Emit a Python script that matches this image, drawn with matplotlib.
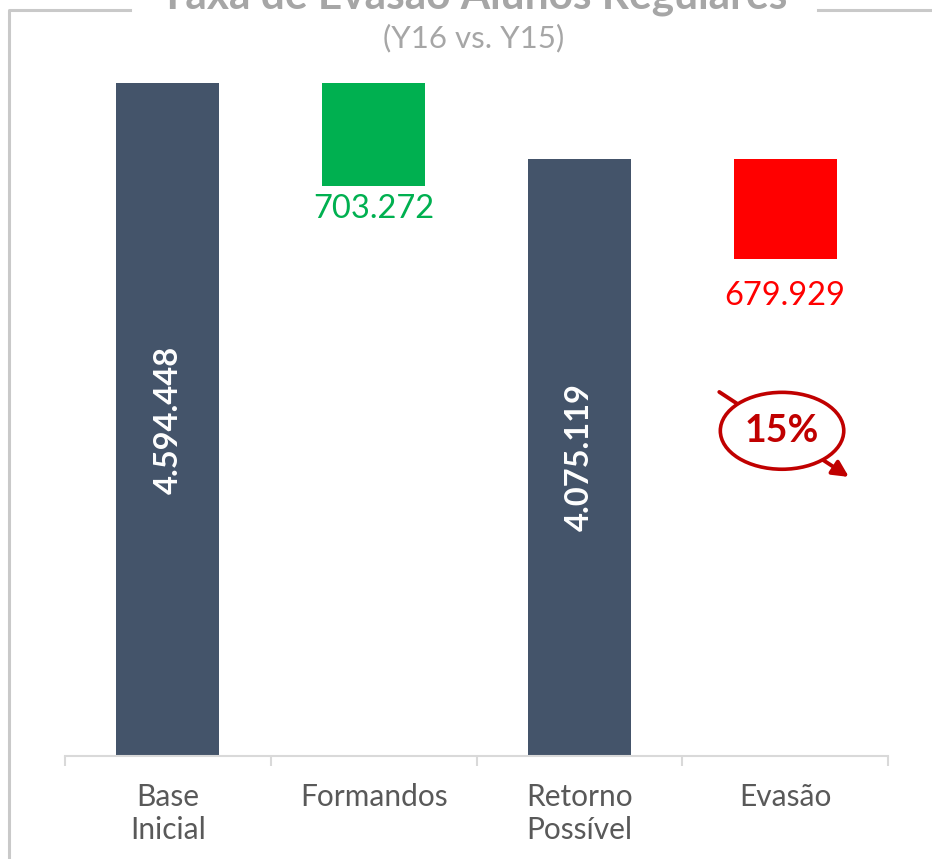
import matplotlib
matplotlib.use("Agg")
import matplotlib.pyplot as plt
from matplotlib.patches import Ellipse
from matplotlib.lines import Line2D

plt.rcParams['font.family'] = ['Lato', 'DejaVu Sans']

categories = ['Base\nInicial', 'Formandos', 'Retorno\nPossível', 'Evasão']
base_inicial = 4594448
formandos = 703272
retorno = 4075119
evasao = 679929

dark = '#44546A'
green = '#00B050'
red = '#FF0000'
dark_red = '#C00000'
frame_gray = '#C9C9C9'

fig = plt.figure(figsize=(9.32, 8.59), dpi=100)
ax = fig.add_axes([65 / 932, 1 - 756 / 859, 823 / 932, 686 / 859])

# waterfall: totals from the ground, changes hanging from the previous total
heights = [base_inicial, formandos, retorno, evasao]
bottoms = [0, base_inicial - formandos, 0, retorno - evasao]
colors = [dark, green, dark, red]
x = range(len(categories))
ax.bar(x, heights, bottom=bottoms, width=0.5, color=colors, zorder=2)

# value labels
for i, v in [(0, base_inicial), (2, retorno)]:
    ax.text(i, v / 2, f'{v:,}'.replace(',', '.'), rotation=90, ha='center', va='center',
            color='white', fontsize=23.5, fontweight='bold')
ax.annotate(f'{formandos:,}'.replace(',', '.'), (1, base_inicial - formandos),
            xytext=(0, -16.5), textcoords='offset points', ha='center', va='center',
            color=green, fontsize=23.5)
ax.annotate(f'{evasao:,}'.replace(',', '.'), (3, retorno - evasao),
            xytext=(0, -27), textcoords='offset points', ha='center', va='center',
            color=red, fontsize=23.5)

# evasion rate bubble
rate = evasao / base_inicial
ax.annotate('', xy=(3.31, 1.905e6), xytext=(2.68, 2.485e6),
            arrowprops=dict(arrowstyle='-|>', color=dark_red, lw=2.8, mutation_scale=24,
                            shrinkA=0, shrinkB=0), zorder=3)
ax.add_patch(Ellipse((2.985, 2.22e6), 0.6, 5.25e5, facecolor='white', edgecolor=dark_red,
                     lw=2.6, zorder=4))
ax.text(2.985, 2.22e6, f'{rate:.0%}', ha='center', va='center', color=dark_red,
        fontsize=27, fontweight='bold', zorder=5)

ax.set_xlim(-0.5, 3.5)
ax.set_ylim(0, 4683000)
ax.set_yticks([])
for s in ['top', 'left', 'right']:
    ax.spines[s].set_visible(False)
ax.spines['bottom'].set_color('#D9D9D9')
ax.spines['bottom'].set_linewidth(1.5)
ax.set_xticks([-0.5, 0.5, 1.5, 2.5, 3.5])
ax.set_xticklabels([])
ax.tick_params(axis='x', which='major', length=7.5, width=1.5, color='#D9D9D9')
ax.set_xticks(list(x), minor=True)
ax.set_xticklabels(categories, minor=True, fontsize=21.5, color='#595959', linespacing=1.22)
ax.tick_params(axis='x', which='minor', length=0, pad=19.5)

# title and frame
fig.text(474 / 932, 1 - 8 / 859, 'Taxa de Evasão Alunos Regulares', ha='center', va='baseline',
         fontsize=30.5, fontweight='bold', color='#A6A6A6')
fig.text(474 / 932, 1 - 38 / 859, '(Y16 vs. Y15)', ha='center', va='center',
         fontsize=22.5, color='#A6A6A6')
for xs, ys in [([9, 9, 130], [859, 10, 10]), ([818, 932], [10, 10])]:
    fig.add_artist(Line2D([v / 932 for v in xs], [1 - v / 859 for v in ys],
                          color=frame_gray, lw=2.2, transform=fig.transFigure))

fig.savefig('out.png', dpi=100)
